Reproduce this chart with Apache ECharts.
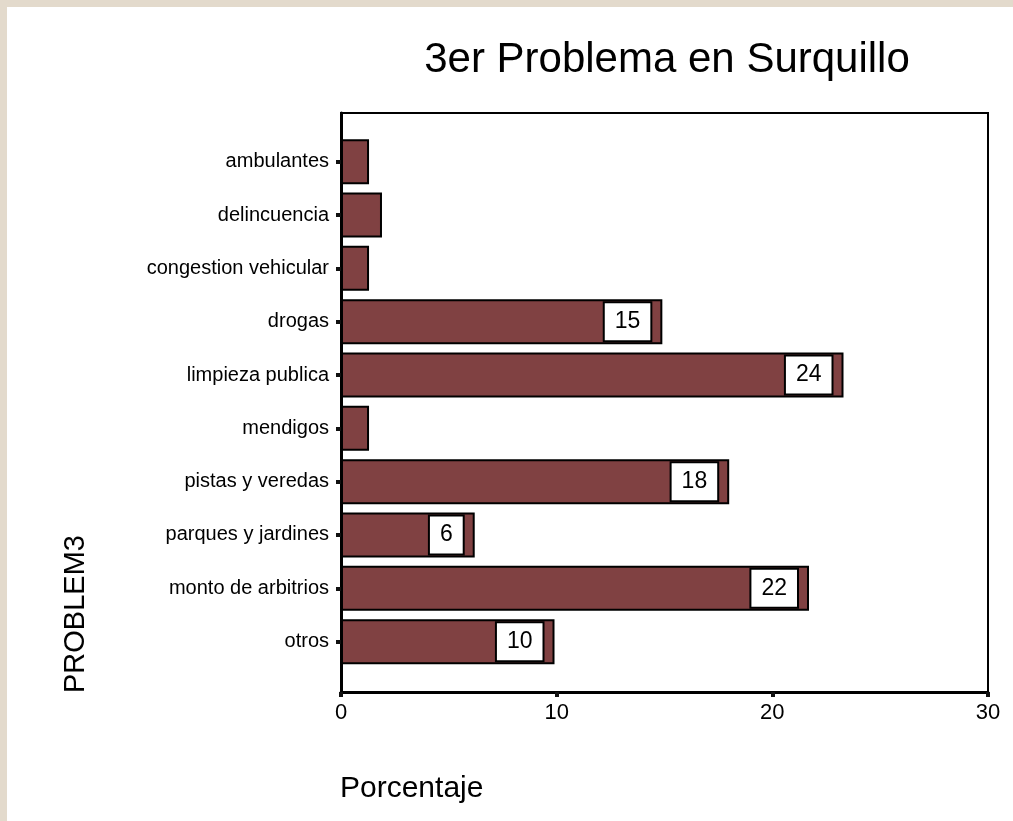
<!DOCTYPE html>
<html>
<head>
<meta charset="utf-8">
<script src="https://cdn.jsdelivr.net/npm/echarts@6/dist/echarts.min.js"></script>
<style>
html,body{margin:0;padding:0;background:#e3dacc;width:1013px;height:821px;overflow:hidden;}
#panel{position:absolute;left:7px;top:7px;right:0;bottom:0;background:#fff;}
#chart{position:absolute;left:0;top:0;width:1013px;height:821px;}
</style>
</head>
<body>
<div id="panel"></div>
<div id="chart"></div>
<script>
const categories = ['ambulantes','delincuencia','congestion vehicular','drogas','limpieza publica','mendigos','pistas y veredas','parques y jardines','monto de arbitrios','otros'];
const values = [1.3, 1.9, 1.3, 14.9, 23.3, 1.3, 18.0, 6.2, 21.7, 9.9];
const valueLabels = ['', '', '', '15', '24', '', '18', '6', '22', '10'];
const xTicks = [0, 10, 20, 30];
const titleText = '3er Problema en Surquillo';
const xName = 'Porcentaje';
const yName = 'PROBLEM3';

const FONT = '"Liberation Sans", Arial, sans-serif';
const chart = echarts.init(document.getElementById('chart'), null, {renderer: 'canvas'});

const barData = values.map((v, i) => ({
  value: v,
  label: {show: valueLabels[i] !== ''}
}));

const option = {
  animation: false,
  backgroundColor: 'transparent',
  grid: [
    {left: 341, right: 25, top: 135, height: 533.3, containLabel: false},
    {left: 341, right: 25, top: 113, bottom: 129, show: true, borderColor: '#000', borderWidth: 2, backgroundColor: 'transparent'}
  ],
  xAxis: [
    {gridIndex: 0, type: 'value', min: xTicks[0], max: xTicks[xTicks.length-1], interval: 10, show: false},
    {gridIndex: 1, type: 'value', min: xTicks[0], max: xTicks[xTicks.length-1], interval: 10,
     axisLine: {show: true, lineStyle: {color: '#000', width: 3}},
     axisTick: {show: true, length: 5, lineStyle: {color: '#111', width: 4}},
     splitLine: {show: false},
     axisLabel: {color: '#000', fontFamily: FONT, fontSize: 22, margin: 10}}
  ],
  yAxis: [
    {gridIndex: 0, type: 'category', data: categories, inverse: true,
     axisLine: {show: false},
     axisTick: {show: true, alignWithLabel: true, length: 5, lineStyle: {color: '#111', width: 4}},
     axisLabel: {color: '#000', fontFamily: FONT, fontSize: 20, margin: 12}},
    {gridIndex: 1, type: 'value', min: 0, max: 1, show: true,
     axisLine: {show: true, lineStyle: {color: '#000', width: 3}},
     axisTick: {show: false}, axisLabel: {show: false}, splitLine: {show: false}}
  ],
  series: [{
    type: 'bar',
    xAxisIndex: 0, yAxisIndex: 0,
    data: barData,
    barWidth: 45,
    itemStyle: {color: '#804142', borderColor: '#000', borderWidth: 2},
    label: {
      position: 'insideRight',
      distance: 12,
      formatter: p => valueLabels[p.dataIndex],
      color: '#000',
      fontFamily: FONT,
      fontSize: 23,
      backgroundColor: '#fff',
      borderColor: '#000',
      borderWidth: 2,
      padding: [7, 10, 7, 10]
    }
  }],
  graphic: [
    {type: 'text', x: 667, y: 60, style: {text: titleText, font: '42px ' + FONT, fill: '#000', align: 'center', verticalAlign: 'middle'}},
    {type: 'text', x: 340, y: 789, style: {text: xName, font: '30px ' + FONT, fill: '#000', align: 'left', verticalAlign: 'middle'}},
    {type: 'text', x: 76, y: 693, rotation: Math.PI/2, style: {text: yName, font: '29px ' + FONT, fill: '#000', align: 'left', verticalAlign: 'middle'}}
  ]
};
chart.setOption(option);
</script>
</body>
</html>
